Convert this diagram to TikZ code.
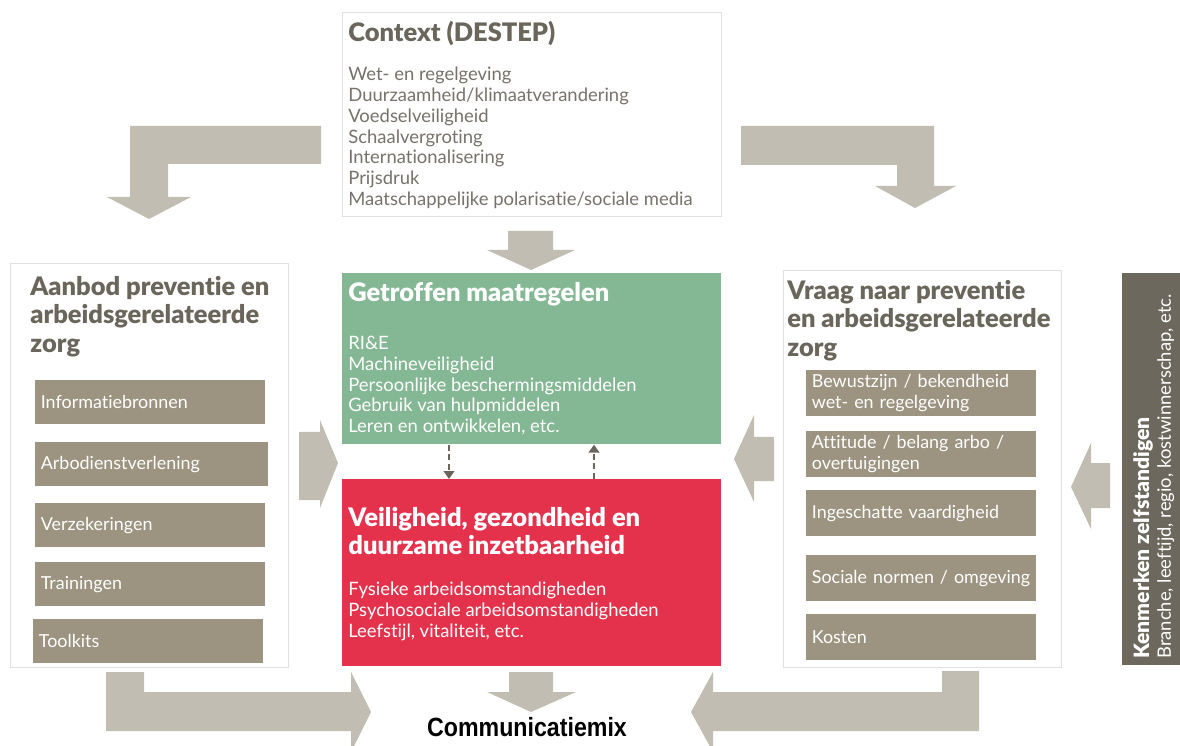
\documentclass[tikz,border=0pt]{standalone}
\usepackage{fontspec}
\usepackage{graphicx}
\usetikzlibrary{arrows.meta}
\setmainfont{Lato}[Ligatures=NoCommon, BoldFont={Lato Black}]
\newfontfamily\mixfont{Liberation Sans}

\definecolor{arrowgray}{HTML}{C1BDB2}
\definecolor{itemgray}{HTML}{9C9480}
\definecolor{barbrown}{HTML}{6D685E}
\definecolor{titlegray}{HTML}{6B665C}
\definecolor{bodygray}{HTML}{77726A}
\definecolor{measuregreen}{HTML}{84B794}
\definecolor{healthred}{HTML}{E4324C}
\definecolor{panelframe}{HTML}{E0E0E0}

\newcommand{\bodyfont}{\fontsize{10.5}{11.8}\selectfont}
\newcommand{\itemfont}{\fontsize{10.2}{11.8}\selectfont}
\newcommand{\headfont}{\fontsize{14.5}{16.2}\selectfont\bfseries}

\begin{document}
\begin{tikzpicture}[x=0.02cm, y=-0.02cm,
    panel/.style={draw=panelframe, line width=0.6pt, fill=white, anchor=north west, inner sep=0pt},
    colbox/.style={anchor=north west, inner sep=0pt},
    item/.style={fill=itemgray, text=white, anchor=north west, inner xsep=0.11cm, inner ysep=0pt,
        text width=4.38cm, align=left, font=\itemfont},
    txt/.style={anchor=north west, inner sep=0pt, align=left},
    blockarrow/.style={fill=arrowgray},
    dasharrow/.style={draw=titlegray, line width=1.6pt, dash pattern=on 3.5pt off 2pt,
        -{Triangle[width=6pt,length=4.5pt]}}]
    \clip (0,0) rectangle (1180,746);

    % Context
    \node[panel, minimum width=7.58cm, minimum height=4.08cm] (context) at (342,12) {};
    \node[txt, text=titlegray, font=\headfont] (contexttitle) at (348,21) {Context (DESTEP)};
    \node[txt, text=bodygray, font=\bodyfont] (contextlist) at (348,67) {Wet- en regelgeving\\
        Duurzaamheid/klimaatverandering\\ Voedselveiligheid\\ Schaalvergroting\\
        Internationalisering\\ Prijsdruk\\ Maatschappelijke polarisatie/sociale media};

    % Bent arrows from the context
    \fill[blockarrow] (321,126) -- (130,126) -- (130,197) -- (107,197) -- (149,219)
        -- (191,197) -- (168,197) -- (168,164) -- (321,164) -- cycle;
    \fill[blockarrow] (741,126) -- (934,126) -- (934,186) -- (956,186) -- (915,208)
        -- (875,186) -- (897,186) -- (897,165) -- (741,165) -- cycle;
    \fill[blockarrow] (508,231) -- (553,231) -- (553,250) -- (575,250) -- (531,270)
        -- (487,250) -- (508,250) -- cycle;

    % Getroffen maatregelen
    \node[colbox, fill=measuregreen, minimum width=7.58cm, minimum height=3.42cm] (measures) at (342,273) {};
    \node[txt, text=white, font=\headfont] (measurestitle) at (348,282) {Getroffen maatregelen};
    \node[txt, text=white, font=\bodyfont] (measureslist) at (348,336) {RI\&E\\ Machineveiligheid\\
        Persoonlijke beschermingsmiddelen\\ Gebruik van hulpmiddelen\\ Leren en ontwikkelen, etc.};

    % Veiligheid, gezondheid en duurzame inzetbaarheid
    \node[colbox, fill=healthred, minimum width=7.58cm, minimum height=3.74cm] (health) at (342,479) {};
    \node[txt, text=white, font=\headfont] (healthtitle) at (348,507)
        {Veiligheid, gezondheid en\\ duurzame inzetbaarheid};
    \node[txt, text=white, font=\bodyfont] (healthlist) at (348,582) {Fysieke arbeidsomstandigheden\\
        Psychosociale arbeidsomstandigheden\\ Leefstijl, vitaliteit, etc.};

    % Dashed links between the two
    \coordinate (linkdown) at (449,0);
    \coordinate (linkup) at (594,0);
    \draw[dasharrow] (measures.south -| linkdown) -- (health.north -| linkdown);
    \draw[dasharrow] (health.north -| linkup) -- (measures.south -| linkup);

    % Aanbod
    \node[panel, minimum width=5.56cm, minimum height=8.08cm] (supply) at (10,263) {};
    \node[txt, text=titlegray, font=\headfont] (supplytitle) at (30,276)
        {Aanbod preventie en\\ arbeidsgerelateerde\\ zorg};
    \node[item, minimum height=0.88cm] (info) at (35,380) {Informatiebronnen};
    \node[item, minimum height=0.88cm, text width=4.44cm] (arbo) at (35,442) {Arbodienstverlening};
    \node[item, minimum height=0.88cm] (insure) at (35,503) {Verzekeringen};
    \node[item, minimum height=0.88cm] (train) at (35,562) {Trainingen};
    \node[item, minimum height=0.88cm] (tools) at (33,619) {Toolkits};

    % Vraag
    \node[panel, minimum width=5.56cm, minimum height=7.94cm] (demand) at (783,270) {};
    \node[txt, text=titlegray, font=\headfont] (demandtitle) at (787,280)
        {Vraag naar preventie\\ en arbeidsgerelateerde\\ zorg};
    \node[item, minimum height=0.92cm] (aware) at (806,370) {Bewustzijn / bekendheid\\ wet- en regelgeving};
    \node[item, minimum height=0.92cm] (attitude) at (806,431) {Attitude / belang arbo /\\ overtuigingen};
    \node[item, minimum height=0.92cm] (skill) at (806,490) {Ingeschatte vaardigheid};
    \node[item, minimum height=0.92cm] (norms) at (806,555) {\mbox{Sociale normen / omgeving}};
    \node[item, minimum height=0.92cm] (cost) at (806,614) {Kosten};

    % Kenmerken
    \node[colbox, fill=barbrown, minimum width=1.2cm, minimum height=7.84cm] (traits) at (1122,273) {};
    \node[txt, text=white, font=\bodyfont, rotate=90] (traitstext) at (1133,659)
        {{\fontsize{12}{13}\selectfont\bfseries Kenmerken zelfstandigen}\\[0.5pt]
        Branche, leeftijd, regio, kostwinnerschap, etc.};

    % Side arrows
    \fill[blockarrow] (299,432) -- (320,432) -- (320,420) -- (338,463) -- (320,508)
        -- (320,500) -- (299,500) -- cycle;
    \fill[blockarrow] (774,437) -- (754,437) -- (754,415) -- (734,459) -- (754,502)
        -- (754,481) -- (774,481) -- cycle;
    \fill[blockarrow] (1110,463) -- (1091,463) -- (1091,443) -- (1071,487) -- (1091,529)
        -- (1091,508) -- (1110,508) -- cycle;

    % Arrows to the communicatiemix
    \fill[blockarrow] (106,672) -- (144,672) -- (144,692) -- (351,692) -- (351,672) -- (371,712)
        -- (351,752) -- (351,731) -- (106,731) -- cycle;
    \fill[blockarrow] (979,671) -- (942,671) -- (942,692) -- (713,692) -- (713,672) -- (691,712)
        -- (713,752) -- (713,731) -- (979,731) -- cycle;
    \fill[blockarrow] (509,672) -- (553,672) -- (553,692) -- (576,692) -- (531,712)
        -- (487,692) -- (509,692) -- cycle;
    \node (mix) at (527,727) {\scalebox{0.88}[1]{\mixfont\bfseries\fontsize{15}{15}\selectfont Communicatiemix}};
\end{tikzpicture}
\end{document}
